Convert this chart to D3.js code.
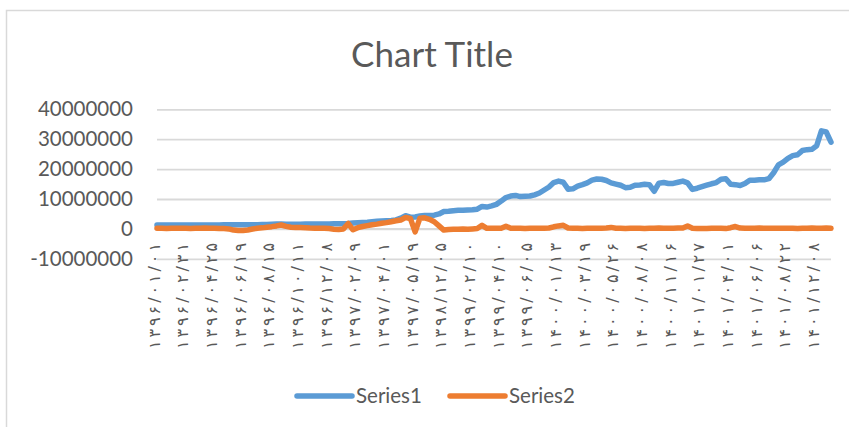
<!DOCTYPE html>
<html>
<head>
<meta charset="utf-8">
<script src="https://cdn.jsdelivr.net/npm/d3@7"></script>
<style>
  html, body { margin: 0; padding: 0; background: #fff; }
  svg { display: block; }
</style>
</head>
<body>
<div id="chart"></div>
<script>
// tick labels on the category axis, one every `tickEvery` points
const tickLabels = [
  '۱۳۹۶/۰۱/۰۱', '۱۳۹۶/۰۲/۳۱', '۱۳۹۶/۰۴/۲۵', '۱۳۹۶/۰۶/۱۹', '۱۳۹۶/۰۸/۱۵', '۱۳۹۶/۱۰/۱۱',
  '۱۳۹۶/۱۲/۰۸', '۱۳۹۷/۰۲/۰۹', '۱۳۹۷/۰۴/۰۱', '۱۳۹۷/۰۵/۱۹', '۱۳۹۸/۱۲/۰۵', '۱۳۹۹/۰۲/۱۰',
  '۱۳۹۹/۰۴/۱۰', '۱۳۹۹/۰۶/۰۵', '۱۴۰۰/۰۱/۱۳', '۱۴۰۰/۰۳/۱۹', '۱۴۰۰/۰۵/۲۶', '۱۴۰۰/۰۸/۰۸',
  '۱۴۰۰/۱۱/۱۶', '۱۴۰۱/۰۱/۲۷', '۱۴۰۱/۰۴/۰۱', '۱۴۰۱/۰۶/۰۶', '۱۴۰۱/۰۸/۲۲', '۱۴۰۱/۱۲/۰۸'
];
const tickEvery = 6;

// values in millions
const series1M = [
  1.30, 1.28, 1.30, 1.32, 1.30, 1.29, 1.31, 1.30, 1.32, 1.33, 1.31, 1.30, 1.32, 1.34, 1.35, 1.36,
  1.38, 1.37, 1.36, 1.38, 1.40, 1.42, 1.45, 1.48, 1.55, 1.60, 1.62, 1.58, 1.55, 1.56,
  1.58, 1.60, 1.62, 1.63, 1.65, 1.66, 1.68, 1.70, 1.72, 1.75, 1.80,
  1.95, 2.05, 2.15, 2.25, 2.40, 2.55, 2.65, 2.75, 2.85, 3.0,
  3.6, 4.4, 3.9, 4.0, 4.3, 4.5, 4.5, 4.6, 5.0, 5.8,
  5.9, 6.1, 6.2, 6.2, 6.3, 6.4, 6.6, 7.5, 7.3, 7.7,
  8.2, 9.3, 10.5, 11.0, 11.2, 10.8, 10.9, 11.0, 11.4, 12.0,
  13.0, 14.0, 15.5, 16.0, 15.6, 13.3, 13.4, 14.3, 14.8, 15.4,
  16.3, 16.7, 16.6, 16.2, 15.4, 15.0, 14.6, 13.8, 13.9, 14.6,
  14.7, 14.9, 14.8, 12.6, 15.3, 15.5, 15.2, 15.2, 15.6, 16.0,
  15.4, 13.2, 13.6, 14.1, 14.6, 15.1, 15.5, 16.6, 16.8, 14.9,
  14.8, 14.5, 15.2, 16.3, 16.3, 16.4, 16.4, 16.8, 18.8, 21.4,
  22.3, 23.6, 24.5, 24.8, 26.2, 26.5, 26.6, 27.8, 32.8, 32.4, 29.0
];
const series2M = [
  0.20, 0.18, 0.15, 0.22, 0.25, 0.20, 0.18, 0.15, 0.20, 0.25, 0.30, 0.25, 0.20, 0.15, 0.10, 0.00,
  -0.40, -0.55, -0.50, -0.35, -0.05, 0.20, 0.35, 0.55, 0.75, 1.00, 1.30, 0.85, 0.55, 0.50,
  0.45, 0.40, 0.30, 0.25, 0.20, 0.20, 0.10, -0.10, -0.20, 0.00, 1.80,
  -0.30, 0.40, 0.80, 1.10, 1.40, 1.60, 1.90, 2.10, 2.40, 2.70,
  3.00, 3.80, 3.50, -1.00, 3.60, 3.70, 3.20, 2.40, 1.00, -0.40,
  -0.20, -0.10, -0.10, 0.00, -0.10, 0.00, 0.10, 1.20, 0.20, 0.20,
  0.20, 0.20, 0.90, 0.20, 0.20, 0.20, 0.10, 0.20, 0.20, 0.20,
  0.20, 0.30, 0.70, 1.00, 1.20, 0.30, 0.20, 0.20, 0.10, 0.20,
  0.20, 0.20, 0.20, 0.30, 0.50, 0.20, 0.20, 0.10, 0.20, 0.20,
  0.20, 0.10, 0.20, 0.20, 0.30, 0.20, 0.20, 0.20, 0.30, 0.30,
  1.00, 0.20, 0.10, 0.10, 0.10, 0.20, 0.20, 0.20, 0.10, 0.40,
  0.80, 0.30, 0.20, 0.20, 0.20, 0.30, 0.20, 0.20, 0.20, 0.20,
  0.20, 0.20, 0.20, 0.10, 0.20, 0.20, 0.30, 0.20, 0.20, 0.30, 0.20
];
const seriesNames = ['Series1', 'Series2'];
const seriesColors = ['#5b9bd5', '#ed7d31'];
const yTicks = [-10000000, 0, 10000000, 20000000, 30000000, 40000000];

const width = 849;
const height = 427;
const plot = {left: 157, right: 831, top: 109.3, bottom: 258.8};
const textColor = '#595959';
const gridColor = '#d9d9d9';

const series = [series1M, series2M].map(function (s) {
  return s.map(function (v) { return v * 1e6; });
});

const svg = d3.select('#chart').append('svg')
  .attr('width', width)
  .attr('height', height);

// chart area border
svg.append('rect')
  .attr('x', 6.5).attr('y', 10.5)
  .attr('width', 900).attr('height', 500)
  .attr('fill', '#fff')
  .attr('stroke', gridColor)
  .attr('stroke-width', 1.5);

const x = d3.scaleLinear()
  .domain([0, series1M.length - 1])
  .range([plot.left, plot.right]);
const y = d3.scaleLinear()
  .domain([d3.min(yTicks), d3.max(yTicks)])
  .range([plot.bottom, plot.top]);

svg.append('text')
  .attr('x', 432).attr('y', 67)
  .attr('text-anchor', 'middle')
  .attr('fill', textColor)
  .style('font-family', 'Lato, "Open Sans", sans-serif')
  .style('font-size', '35px')
  .text('Chart Title');

// value axis with gridlines; plain hyphen for the minus sign like Excel
const yAxis = svg.append('g')
  .attr('transform', 'translate(' + plot.left + ',0)')
  .call(d3.axisLeft(y)
    .tickValues(yTicks)
    .tickFormat(function (d) { return String(d); })
    .tickSize(-(plot.right - plot.left))
    .tickPadding(24));
yAxis.select('.domain').remove();
yAxis.selectAll('line')
  .attr('stroke', gridColor)
  .attr('stroke-width', 1.8);
yAxis.selectAll('text')
  .attr('fill', textColor)
  .style('font-family', 'Lato, "Open Sans", sans-serif')
  .style('font-size', '20.5px');

// category axis line at zero
svg.append('line')
  .attr('x1', plot.left).attr('x2', plot.right)
  .attr('y1', y(0)).attr('y2', y(0))
  .attr('stroke', gridColor)
  .attr('stroke-width', 1.8);

const line = d3.line()
  .x(function (d, i) { return x(i); })
  .y(function (d) { return y(d); });

svg.selectAll('path.series')
  .data(series)
  .enter()
  .append('path')
  .attr('class', 'series')
  .attr('d', line)
  .attr('fill', 'none')
  .attr('stroke', function (d, i) { return seriesColors[i]; })
  .attr('stroke-width', 5.5)
  .attr('stroke-linejoin', 'round')
  .attr('stroke-linecap', 'round');

// rotated date labels, reading bottom to top, spread to Excel's length
svg.append('g')
  .selectAll('text')
  .data(tickLabels)
  .enter()
  .append('text')
  .attr('transform', function (d, i) {
    return 'translate(' + (x(i * tickEvery) - 3) + ',243) rotate(-90)';
  })
  .attr('text-anchor', 'end')
  .attr('dominant-baseline', 'central')
  .attr('direction', 'ltr')
  .attr('textLength', 106)
  .attr('lengthAdjust', 'spacing')
  .attr('fill', textColor)
  .style('font-family', '"DejaVu Sans", sans-serif')
  .style('font-size', '16px')
  .text(function (d) { return d; });

// legend
const legend = svg.append('g')
  .selectAll('g')
  .data(seriesNames)
  .enter()
  .append('g')
  .attr('transform', function (d, i) { return 'translate(' + (297 + i * 153) + ',396)'; });
legend.append('line')
  .attr('x1', 0).attr('x2', 55)
  .attr('stroke', function (d, i) { return seriesColors[i]; })
  .attr('stroke-width', 5.5)
  .attr('stroke-linecap', 'round');
legend.append('text')
  .attr('x', 59).attr('y', 7)
  .attr('fill', textColor)
  .style('font-family', 'Lato, "Open Sans", sans-serif')
  .style('font-size', '20.5px')
  .text(function (d) { return d; });
</script>
</body>
</html>
